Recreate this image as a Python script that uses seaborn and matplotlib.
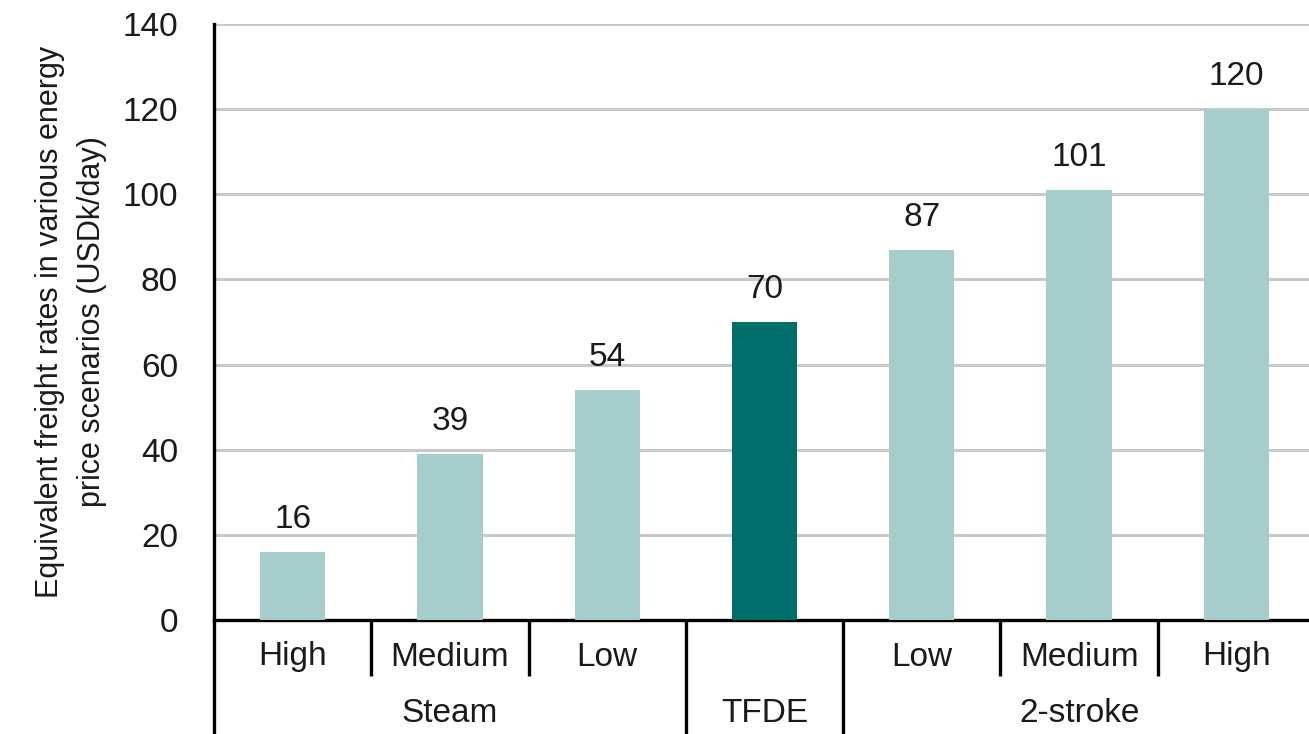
import matplotlib
matplotlib.use("Agg")
import matplotlib.pyplot as plt
import matplotlib.transforms as mtransforms
import seaborn as sns
import pandas as pd

# Data
engines = ["Steam", "Steam", "Steam", "TFDE", "2-stroke", "2-stroke", "2-stroke"]
scenarios = ["High", "Medium", "Low", "", "Low", "Medium", "High"]
values = [16, 39, 54, 70, 87, 101, 120]
highlight = "TFDE"

light_teal = "#a6cdcb"
dark_teal = "#006e6a"
text_color = "#1a1a1a"

sns.set_style("white")
plt.rcParams["font.family"] = ["Liberation Sans", "DejaVu Sans"]
plt.rcParams["text.color"] = text_color
plt.rcParams["axes.labelcolor"] = text_color
plt.rcParams["xtick.color"] = text_color
plt.rcParams["ytick.color"] = text_color

df = pd.DataFrame({
    "key": [f"{e} {s}".strip() for e, s in zip(engines, scenarios)],
    "engine": engines,
    "scenario": scenarios,
    "value": values,
})
df["kind"] = ["main" if e == highlight else "other" for e in engines]

fig = plt.figure(figsize=(13.09, 7.34), dpi=100)
ax = fig.add_axes([214 / 1309, 1 - 620 / 734, (1315 - 214) / 1309, (620 - 24) / 734])

sns.barplot(data=df, x="key", y="value", hue="kind",
            palette={"main": dark_teal, "other": light_teal},
            order=list(df["key"]), hue_order=["other", "main"],
            dodge=False, width=0.415, legend=False, saturation=1, ax=ax,
            linewidth=0, zorder=3)

for cont in ax.containers:
    ax.bar_label(cont, fmt="%d", padding=12, fontsize=24, color=text_color)

ax.set_xlim(-0.5, len(values) - 0.5)
ax.set_ylim(0, 140)
ax.set_yticks(range(0, 141, 20))
ax.yaxis.grid(True, color="#c9c9c9", linewidth=2.2, zorder=0)
ax.set_axisbelow(True)
ax.tick_params(axis="y", labelsize=24, length=8, width=2.2, pad=18, direction="out")
ax.tick_params(axis="x", length=0, labelbottom=False)
ax.set_xlabel("")
ax.set_ylabel("Equivalent freight rates in various energy\nprice scenarios (USDk/day)",
              fontsize=22, linespacing=1.55)
ax.yaxis.set_label_coords(-0.097, 0.5)

for side in ["top", "right"]:
    ax.spines[side].set_visible(False)
for side in ["left", "bottom"]:
    ax.spines[side].set_color("black")
    ax.spines[side].set_linewidth(2.4)

# Two-level category axis below the plot
trans = mtransforms.blended_transform_factory(ax.transData, ax.transAxes)
short_depth = -(676 - 620) / 596
long_depth = -(740 - 620) / 596
sub_y = -(657 - 620) / 596
grp_y = -(713 - 620) / 596

n = len(values)
for i, s in enumerate(scenarios):
    if s:
        ax.text(i, sub_y, s, transform=trans, ha="center", va="center", fontsize=24)

# category boundaries: long lines between engine groups, short lines within a group
for b in range(n + 1):
    if b == 0 or b == n or engines[b - 1] != engines[b]:
        depth = long_depth
    else:
        depth = short_depth
    ax.plot([b - 0.5, b - 0.5], [0, depth], transform=trans, color="black",
            linewidth=2.4, clip_on=False, solid_capstyle="butt")

# group labels centred under each run of engines
start = 0
for i in range(1, n + 1):
    if i == n or engines[i] != engines[start]:
        ax.text((start + i - 1) / 2, grp_y, engines[start], transform=trans,
                ha="center", va="center", fontsize=24)
        start = i

fig.savefig("out.png", dpi=100)
